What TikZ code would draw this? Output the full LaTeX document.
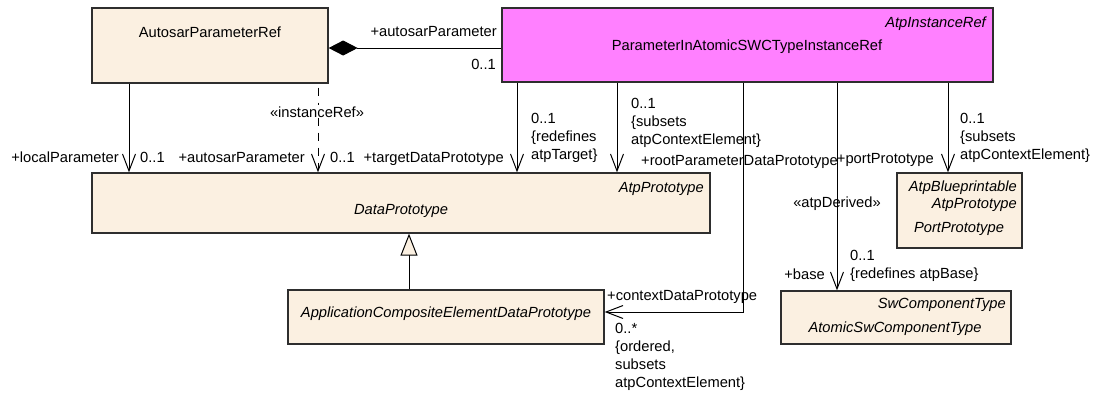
\documentclass[tikz,border=0pt]{standalone}
\usepackage{fontspec}
\setmainfont{Liberation Sans}
\usetikzlibrary{arrows.meta,fit}
\definecolor{clsfill}{HTML}{FBF0E1}
\definecolor{irfill}{HTML}{FF80FF}
\definecolor{edge}{HTML}{2E2E2E}

\begin{document}
\begin{tikzpicture}[x=1pt,y=-1pt,
  every node/.style={font=\fontsize{14.7}{18}\selectfont,inner sep=0pt},
  it/.style={font=\fontsize{14.7}{18}\selectfont\itshape},
  cls/.style={draw=edge,line width=1.3pt,fill=clsfill},
  assoc/.style={line width=1pt,-{Straight Barb[length=17pt,width=13pt]}},
  mult/.style={align=left,anchor=north west}]
  \useasboundingbox (0,0) rectangle (1096,392);
  % classes
  \node[cls,fit={(92,8)(328,83)}] (apr) {};
  \node[cls,fill=irfill,fit={(502,8)(993,82)}] (pir) {};
  \node[cls,fit={(92,173)(710,233)}] (dp) {};
  \node[cls,fit={(288,290)(604,344)}] (acedp) {};
  \node[cls,fit={(897,173)(1022,248)}] (pp) {};
  \node[cls,fit={(781,291)(1011,344)}] (asct) {};
  \node[anchor=base] at (210,37) {AutosarParameterRef};
  \node[it,anchor=base east] at (986,27) {AtpInstanceRef};
  \node[anchor=base] at (747,50) {ParameterInAtomicSWCTypeInstanceRef};
  \node[it,anchor=base east] at (704,192) {AtpPrototype};
  \node[it,anchor=base] at (401,214) {DataPrototype};
  \node[it,anchor=base] at (446,317) {ApplicationCompositeElementDataPrototype};
  \node[it,anchor=base east] at (1017,191) {AtpBlueprintable};
  \node[it,anchor=base east] at (1017,208) {AtpPrototype};
  \node[it,anchor=base] at (959,232) {PortPrototype};
  \node[it,anchor=base east] at (1006,308) {SwComponentType};
  \node[it,anchor=base] at (895,332) {AtomicSwComponentType};
  % connectors
  \draw[line width=1pt,{Diamond[length=29pt,width=15pt]}-] (apr.east |- 0,48) -- (pir.west |- 0,48);
  \foreach \x/\a/\b in {129/apr/dp,517/pir/dp,617/pir/dp,948/pir/pp,837/pir/asct}
    {\draw[assoc] (\a.south -| \x,0) -- (\b.north -| \x,0);}
  \draw[assoc,dash pattern=on 8pt off 7pt] ([yshift=-4pt]apr.south -| 318,0) -- (dp.north -| 318,0);
  \draw[assoc] (pir.south -| 743,0) |- (acedp.east |- 0,312);
  \draw[line width=1pt,-{Triangle[open,length=22pt,width=17pt,fill=clsfill]}] (acedp.north -| 409,0) -- (dp.south -| 409,0);
  % labels
  \node[anchor=base east] at (497,36) {+autosarParameter};
  \node[anchor=base east] at (496,69) {0..1};
  \node[anchor=base,fill=white,inner sep=1pt] at (317,117) {«instanceRef»};
  \node[anchor=base east] at (119,162) {+localParameter};
  \node[anchor=base west] at (140,162) {0..1};
  \node[anchor=base east] at (305,162) {+autosarParameter};
  \node[anchor=base west] at (330,162) {0..1};
  \node[anchor=base east] at (504,162) {+targetDataPrototype};
  \node[mult] at (531,113) {0..1\\\{redefines\\atpTarget\}};
  \node[mult] at (631,98) {0..1\\\{subsets\\atpContextElement\}};
  \node[anchor=base west] at (641,165) {+rootParameterDataPrototype};
  \node[anchor=base east] at (934,163) {+portPrototype};
  \node[mult] at (960,113) {0..1\\\{subsets\\atpContextElement\}};
  \node[anchor=base] at (837,207) {«atpDerived»};
  \node[mult] at (850,250) {0..1\\\{redefines atpBase\}};
  \node[anchor=base east] at (825,279) {+base};
  \node[anchor=base west] at (607,300) {+contextDataPrototype};
  \node[mult] at (615,323) {0..*\\\{ordered,\\subsets\\atpContextElement\}};
\end{tikzpicture}
\end{document}
